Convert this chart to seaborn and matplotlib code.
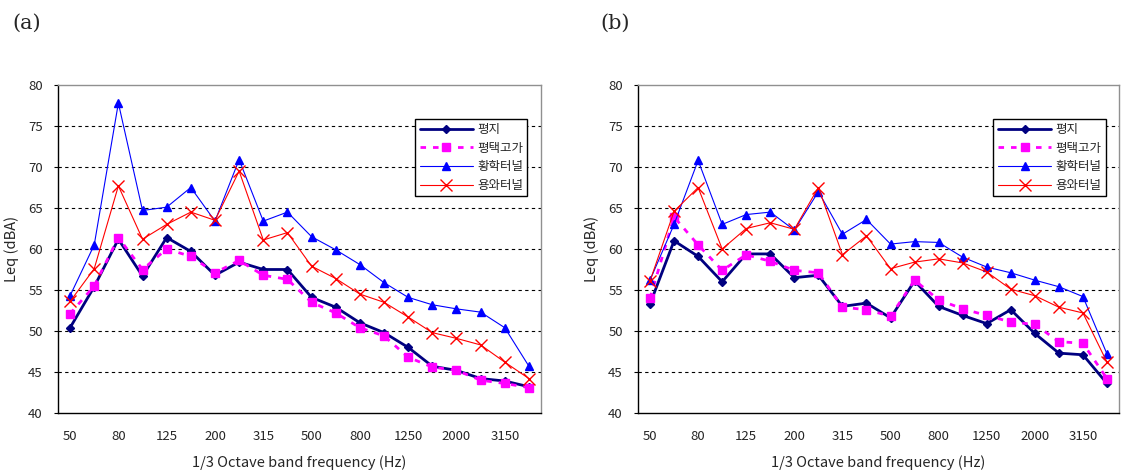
import numpy as np
import pandas as pd
import matplotlib
matplotlib.use("Agg")
import matplotlib.pyplot as plt
import seaborn as sns

# ---- data ----
freqs = ["50", "63", "80", "100", "125", "160", "200", "250", "315", "400",
         "500", "630", "800", "1000", "1250", "1600", "2000", "2500", "3150", "4000"]
tick_labels = ["50", "80", "125", "200", "315", "500", "800", "1250", "2000", "3150"]
series_names = ["평지", "평택고가", "황학터널", "용와터널"]

a_flat = [50.4, 55.4, 61.2, 56.7, 61.4, 59.7, 56.8, 58.4, 57.5, 57.5,
          54.1, 52.9, 51.0, 49.8, 48.0, 45.7, 45.2, 44.2, 43.9, 43.2]
a_viaduct = [52.1, 55.5, 61.4, 57.5, 60.0, 59.1, 57.1, 58.6, 56.8, 56.3,
             53.5, 52.2, 50.4, 49.4, 46.8, 45.6, 45.2, 44.0, 43.6, 43.1]
a_hwanghak = [54.3, 60.5, 77.8, 64.7, 65.1, 67.5, 63.4, 70.9, 63.4, 64.5,
              61.5, 59.9, 58.1, 55.9, 54.1, 53.2, 52.7, 52.3, 50.4, 45.7]
a_yongwa = [53.6, 57.6, 67.7, 61.2, 63.0, 64.5, 63.5, 69.5, 61.1, 62.0,
            57.9, 56.4, 54.5, 53.5, 51.7, 49.8, 49.1, 48.3, 46.2, 44.2]

b_flat = [53.3, 61.0, 59.1, 56.0, 59.4, 59.4, 56.5, 56.8, 53.0, 53.4,
          51.6, 56.1, 53.0, 51.9, 50.9, 52.6, 49.7, 47.3, 47.1, 43.6]
b_viaduct = [54.0, 63.9, 60.5, 57.4, 59.3, 58.5, 57.4, 57.1, 52.9, 52.6,
             51.8, 56.2, 53.8, 52.7, 51.9, 51.1, 50.8, 48.7, 48.5, 44.2]
b_hwanghak = [56.2, 63.0, 70.8, 63.0, 64.2, 64.5, 62.3, 67.0, 61.8, 63.6,
              60.6, 60.9, 60.8, 59.0, 57.8, 57.1, 56.2, 55.4, 54.2, 47.2]
b_yongwa = [56.1, 64.6, 67.5, 60.0, 62.5, 63.2, 62.4, 67.5, 59.3, 61.6,
            57.6, 58.4, 58.8, 58.3, 57.2, 55.1, 54.3, 52.9, 52.2, 46.2]

panels = {"(a)": [a_flat, a_viaduct, a_hwanghak, a_yongwa],
          "(b)": [b_flat, b_viaduct, b_hwanghak, b_yongwa]}

# ---- style ----
sns.set_style("white")
plt.rcParams["font.family"] = ["Noto Sans CJK KR", "DejaVu Sans"]
plt.rcParams["axes.unicode_minus"] = False

styles = [
    dict(color="#000080", marker="D", markersize=4, linewidth=2.0, dash=None),
    dict(color="#FF00FF", marker="s", markersize=6, linewidth=2.0, dash=(2.0, 2.5)),
    dict(color="#0000FF", marker="^", markersize=6, linewidth=0.8, dash=None),
    dict(color="#FF0000", marker="x", markersize=8, linewidth=0.8, dash=None),
]

W, H = 1121, 471
fig = plt.figure(figsize=(W / 100, H / 100), dpi=100)
axes_px = [(58, 541), (638, 1119)]  # left/right pixel edges
top_px, bot_px = 85, 413
ylabel_right_px = [19, 599]
title_px = [(27, 23), (615, 23)]

idx = np.arange(len(freqs))
for (title, data), (lpx, rpx), ylx, (tx, ty) in zip(panels.items(), axes_px,
                                                    ylabel_right_px, title_px):
    pos = (lpx / W, 1 - bot_px / H, (rpx - lpx) / W, (bot_px - top_px) / H)
    ax = fig.add_axes(pos)
    for name, vals, st in zip(series_names, data, styles):
        df = pd.DataFrame({"x": idx, "y": vals})
        sns.lineplot(data=df, x="x", y="y", ax=ax, color=st["color"],
                     marker=st["marker"], markersize=st["markersize"],
                     linewidth=st["linewidth"], label=name,
                     markeredgecolor=st["color"], markeredgewidth=1.0)
        line = ax.lines[-1]
        if st["dash"] is not None:
            line.set_dashes(st["dash"])
    ax.set_xlim(-0.5, len(freqs) - 0.5)
    ax.set_ylim(40, 80)
    ax.set_yticks(np.arange(40, 81, 5))
    ax.set_xticks(idx[::2])
    ax.set_xticklabels(tick_labels)
    ax.set_xticks(np.arange(0.5, len(freqs) - 0.5, 1.0), minor=True)
    ax.tick_params(axis="x", which="major", length=0, pad=12, labelsize=9.5)
    ax.tick_params(axis="x", which="minor", direction="in", length=3.5, width=0.8, color="black")
    ax.tick_params(axis="y", which="major", direction="out", length=3, width=0.8,
                   color="black", labelsize=9.5, pad=8, left=True)
    ax.yaxis.grid(True, linestyle=(0, (3, 3)), color="black", linewidth=0.8)
    gls = ax.get_ygridlines()
    gls[0].set_visible(False)
    gls[-1].set_visible(False)
    for s in ["left", "bottom"]:
        ax.spines[s].set_color("black")
        ax.spines[s].set_linewidth(1.0)
    for s in ["top", "right"]:
        ax.spines[s].set_color("#909090")
        ax.spines[s].set_linewidth(1.0)
    ax.set_xlabel("1/3 Octave band frequency (Hz)", fontsize=10.5, labelpad=9)
    ax.set_ylabel("Leq (dBA)", fontsize=10.5)
    ax.yaxis.set_label_coords((ylx - lpx) / (rpx - lpx), 0.5)
    leg = ax.legend(loc="upper right", bbox_to_anchor=(0.972, 0.897), borderaxespad=0,
                    fontsize=9, frameon=True, fancybox=False, framealpha=1,
                    handlelength=4.3, handletextpad=0.3, labelspacing=0.45,
                    borderpad=0.35)
    leg.get_frame().set_edgecolor("black")
    leg.get_frame().set_linewidth(1.0)
    fig.text(tx / W, 1 - ty / H, title, fontsize=15, family="DejaVu Serif",
             ha="center", va="center")

fig.savefig("out.png", dpi=100)
